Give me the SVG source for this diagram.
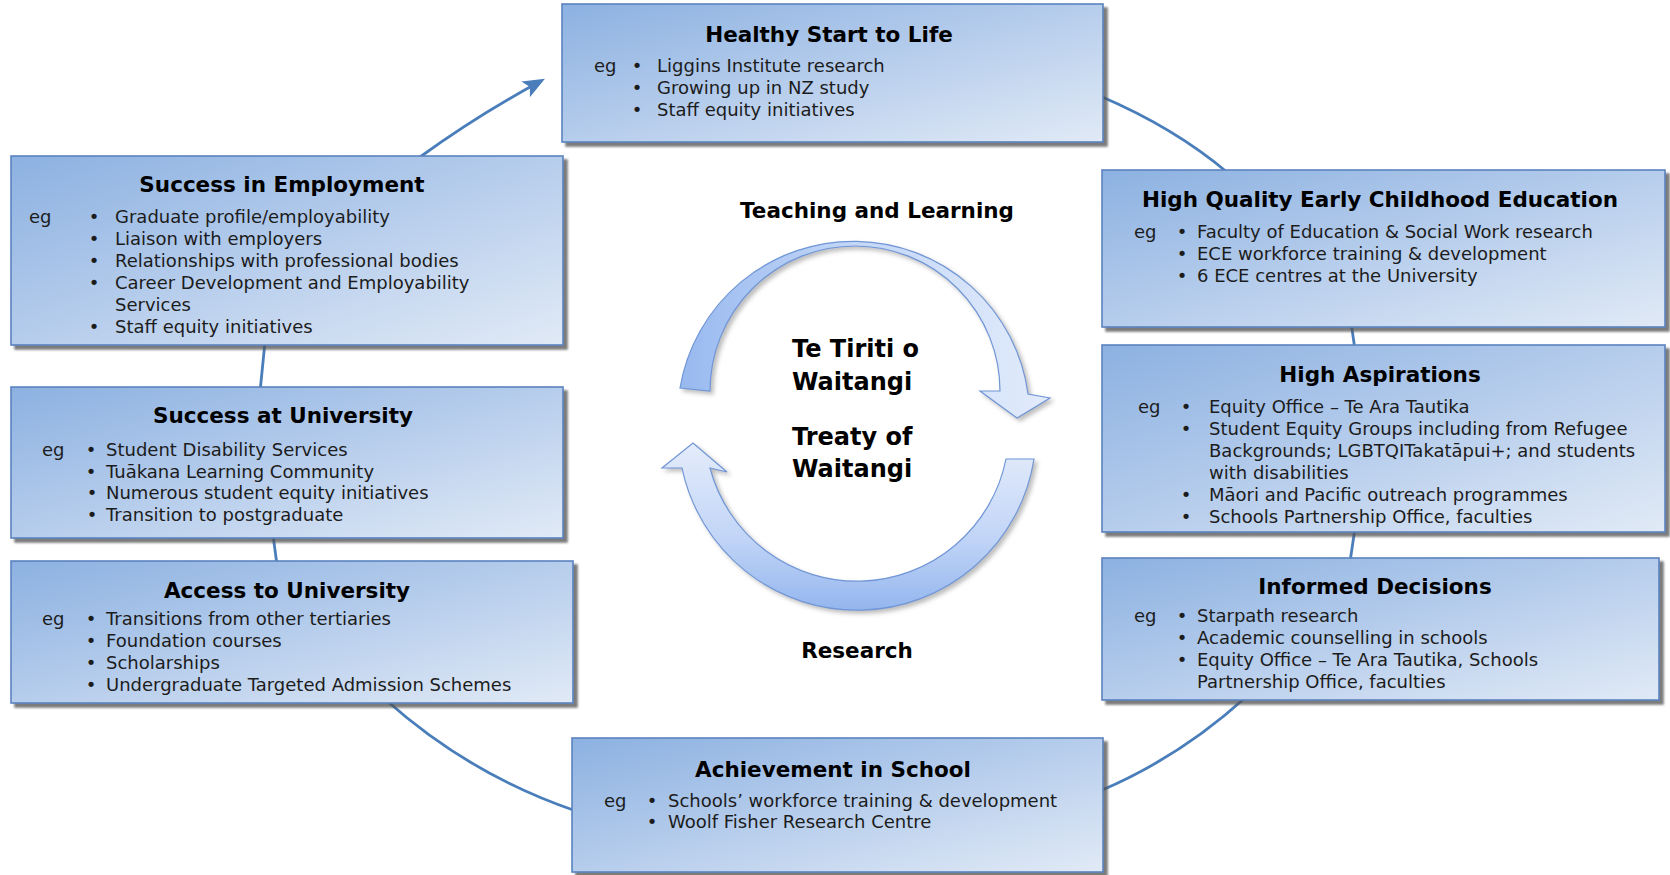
<svg xmlns="http://www.w3.org/2000/svg" width="1670" height="875" viewBox="0 0 1670 875">
<defs>
<linearGradient id="boxg" x1="0" y1="0" x2="1" y2="1">
<stop offset="0" stop-color="#8cb1e1"/>
<stop offset="0.5" stop-color="#b6cdec"/>
<stop offset="1" stop-color="#e1eaf6"/>
</linearGradient>
<linearGradient id="upg" x1="0" y1="0" x2="1" y2="0">
<stop offset="0" stop-color="#98b9ef"/>
<stop offset="0.45" stop-color="#c2d6f7"/>
<stop offset="1" stop-color="#e2ebfb"/>
</linearGradient>
<linearGradient id="lowg" x1="0" y1="0" x2="0" y2="1">
<stop offset="0" stop-color="#e4ecfb"/>
<stop offset="0.55" stop-color="#c3d6f7"/>
<stop offset="1" stop-color="#94b6ee"/>
</linearGradient>
<filter id="sh" x="-5%" y="-5%" width="115%" height="120%">
<feDropShadow dx="4" dy="4" stdDeviation="1.2" flood-color="#505050" flood-opacity="0.75"/>
</filter>
<filter id="sh2" x="-10%" y="-10%" width="125%" height="125%">
<feDropShadow dx="3" dy="3" stdDeviation="2" flood-color="#707070" flood-opacity="0.45"/>
</filter>
<marker id="ah" markerUnits="userSpaceOnUse" viewBox="0 0 22 18" refX="17.5" refY="9" markerWidth="22" markerHeight="18" orient="auto">
<path d="M0 0 L22 9 L0 18 L5 9 Z" fill="#4a7ebb"/>
</marker>
<style>
.box{fill:url(#boxg);stroke:#5a83bf;stroke-width:1.6;filter:url(#sh)}
.t{font-family:"DejaVu Sans",Verdana,sans-serif;font-weight:bold;font-size:21.5px;fill:#000;text-anchor:middle}
.b{font-family:"DejaVu Sans",Verdana,sans-serif;font-size:18px;fill:#1c1c1c}
.bu{font-family:"DejaVu Sans",Verdana,sans-serif;font-size:18px;fill:#1c1c1c;text-anchor:middle}
.c{font-family:"DejaVu Sans",Verdana,sans-serif;font-weight:bold;fill:#000}
.conn{fill:none;stroke:#4a7ebb;stroke-width:2.8}
.arr{stroke:#7096d6;stroke-width:1.2;filter:url(#sh2)}
</style>
</defs>
<rect width="1670" height="875" fill="#fff"/>

<g id="connectors">
<path class="conn" d="M420 157 Q478 115 541 81" marker-end="url(#ah)"/>
<path class="conn" d="M1100 96 Q1175 128 1228 173"/>
<path class="conn" d="M1351 322 L1355 350"/>
<path class="conn" d="M1355 528 L1350 562"/>
<path class="conn" d="M1246 697 Q1180 757 1100 791"/>
<path class="conn" d="M576 811 Q470 775 386 700"/>
<path class="conn" d="M277 565 L273 535"/>
<path class="conn" d="M260 392 L265 342"/>
</g>

<g id="center-cycle">
<path class="arr" fill="url(#upg)" d="M680 388 A176 176 0 0 1 1028 394 L1050 398 L1017 418 L980 391 L1000 391 A145 145 0 0 0 710 391 Z"/>
<path class="arr" fill="url(#lowg)" d="M1034 459 A179 179 0 0 1 682 468 L662 468 L693 443 L727 472 L710 468 A152 152 0 0 0 1006 459 Z"/>
<text class="c" x="877" y="218" font-size="21.5" text-anchor="middle">Teaching and Learning</text>
<text class="c" x="792" y="357" font-size="24">Te Tiriti o</text>
<text class="c" x="792" y="390" font-size="24">Waitangi</text>
<text class="c" x="792" y="445" font-size="24">Treaty of</text>
<text class="c" x="792" y="477" font-size="24">Waitangi</text>
<text class="c" x="857" y="658" font-size="21.5" text-anchor="middle">Research</text>
</g>

<g id="healthy-start">
<rect class="box" x="562" y="4" width="541" height="138"/>
<text class="t" x="829" y="42">Healthy Start to Life</text>
<text class="b" x="594" y="72">eg</text>
<text class="bu" x="637" y="72">•</text><text class="b" x="657" y="72">Liggins Institute research</text>
<text class="bu" x="637" y="94">•</text><text class="b" x="657" y="94">Growing up in NZ study</text>
<text class="bu" x="637" y="116">•</text><text class="b" x="657" y="116">Staff equity initiatives</text>
</g>

<g id="early-childhood">
<rect class="box" x="1102" y="170" width="563" height="157"/>
<text class="t" x="1380" y="207">High Quality Early Childhood Education</text>
<text class="b" x="1134" y="238">eg</text>
<text class="bu" x="1182" y="238">•</text><text class="b" x="1197" y="238">Faculty of Education &amp; Social Work research</text>
<text class="bu" x="1182" y="260">•</text><text class="b" x="1197" y="260">ECE workforce training &amp; development</text>
<text class="bu" x="1182" y="282">•</text><text class="b" x="1197" y="282">6 ECE centres at the University</text>
</g>

<g id="high-aspirations">
<rect class="box" x="1102" y="345" width="563" height="187"/>
<text class="t" x="1380" y="382">High Aspirations</text>
<text class="b" x="1138" y="413">eg</text>
<text class="bu" x="1186" y="413">•</text><text class="b" x="1209" y="413">Equity Office – Te Ara Tautika</text>
<text class="bu" x="1186" y="435">•</text><text class="b" x="1209" y="435">Student Equity Groups including from Refugee</text>
<text class="b" x="1209" y="457">Backgrounds; LGBTQITakatāpui+; and students</text>
<text class="b" x="1209" y="479">with disabilities</text>
<text class="bu" x="1186" y="501">•</text><text class="b" x="1209" y="501">Māori and Pacific outreach programmes</text>
<text class="bu" x="1186" y="523">•</text><text class="b" x="1209" y="523">Schools Partnership Office, faculties</text>
</g>

<g id="informed-decisions">
<rect class="box" x="1102" y="558" width="557" height="142"/>
<text class="t" x="1375" y="594">Informed Decisions</text>
<text class="b" x="1134" y="622">eg</text>
<text class="bu" x="1182" y="622">•</text><text class="b" x="1197" y="622">Starpath research</text>
<text class="bu" x="1182" y="644">•</text><text class="b" x="1197" y="644">Academic counselling in schools</text>
<text class="bu" x="1182" y="666">•</text><text class="b" x="1197" y="666">Equity Office – Te Ara Tautika, Schools</text>
<text class="b" x="1197" y="688">Partnership Office, faculties</text>
</g>

<g id="achievement-school">
<rect class="box" x="572" y="738" width="531" height="134"/>
<text class="t" x="833" y="777">Achievement in School</text>
<text class="b" x="604" y="807">eg</text>
<text class="bu" x="652" y="807">•</text><text class="b" x="668" y="807">Schools’ workforce training &amp; development</text>
<text class="bu" x="652" y="828">•</text><text class="b" x="668" y="828">Woolf Fisher Research Centre</text>
</g>

<g id="access-university">
<rect class="box" x="11" y="561" width="562" height="142"/>
<text class="t" x="287" y="598">Access to University</text>
<text class="b" x="42" y="625">eg</text>
<text class="bu" x="91" y="625">•</text><text class="b" x="106" y="625">Transitions from other tertiaries</text>
<text class="bu" x="91" y="647">•</text><text class="b" x="106" y="647">Foundation courses</text>
<text class="bu" x="91" y="669">•</text><text class="b" x="106" y="669">Scholarships</text>
<text class="bu" x="91" y="691">•</text><text class="b" x="106" y="691">Undergraduate Targeted Admission Schemes</text>
</g>

<g id="success-university">
<rect class="box" x="11" y="387" width="552" height="151"/>
<text class="t" x="283" y="423">Success at University</text>
<text class="b" x="42" y="456">eg</text>
<text class="bu" x="91" y="456">•</text><text class="b" x="106" y="456">Student Disability Services</text>
<text class="bu" x="91" y="478">•</text><text class="b" x="106" y="478">Tuākana Learning Community</text>
<text class="bu" x="92" y="499">•</text><text class="b" x="106" y="499">Numerous student equity initiatives</text>
<text class="bu" x="92" y="521">•</text><text class="b" x="106" y="521">Transition to postgraduate</text>
</g>

<g id="success-employment">
<rect class="box" x="11" y="156" width="552" height="189"/>
<text class="t" x="282" y="192">Success in Employment</text>
<text class="b" x="29" y="223">eg</text>
<text class="bu" x="94" y="223">•</text><text class="b" x="115" y="223">Graduate profile/employability</text>
<text class="bu" x="94" y="245">•</text><text class="b" x="115" y="245">Liaison with employers</text>
<text class="bu" x="94" y="267">•</text><text class="b" x="115" y="267">Relationships with professional bodies</text>
<text class="bu" x="94" y="289">•</text><text class="b" x="115" y="289">Career Development and Employability</text>
<text class="b" x="115" y="311">Services</text>
<text class="bu" x="94" y="333">•</text><text class="b" x="115" y="333">Staff equity initiatives</text>
</g>
</svg>
